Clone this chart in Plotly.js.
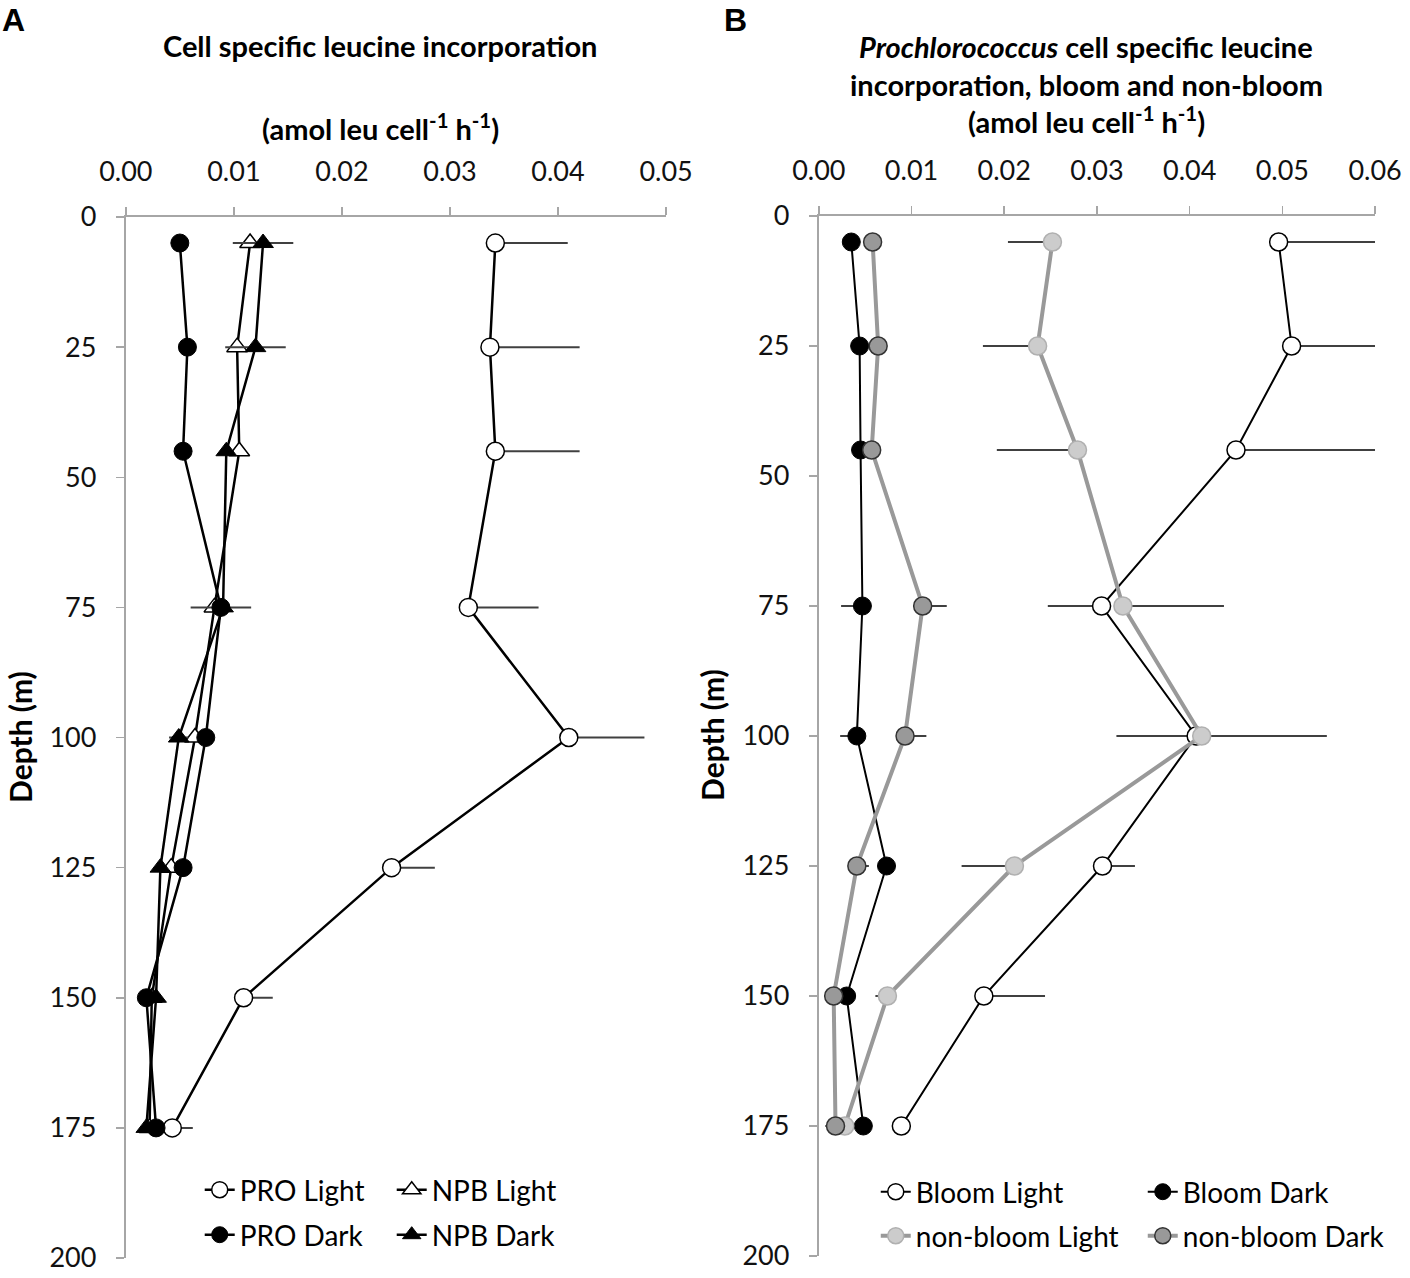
<!DOCTYPE html>
<html>
<head>
<meta charset="utf-8">
<script src="https://cdn.plot.ly/plotly-3.0.1.min.js"></script>
<style>
  html, body { margin: 0; padding: 0; background: #fff; }
  #chart { width: 1410px; height: 1278px; }
</style>
</head>
<body>
<div id="chart"></div>
<script>
// Sampling depths (m), shared by both panels
const depths = [5, 25, 45, 75, 100, 125, 150, 175];

// Panel A: cell specific leucine incorporation (amol leu cell-1 h-1)
const proLight = [0.0342, 0.0337, 0.0342, 0.0317, 0.0410, 0.0246, 0.0109, 0.0043];
const proLightErrPlus = [0.0067, 0.0083, 0.0078, 0.0065, 0.0070, 0.0040, 0.0027, 0.0019];
const proDark = [0.0050, 0.0057, 0.0053, 0.0088, 0.0074, 0.0053, 0.0019, 0.0028];
const proDarkErr = [0, 0, 0, 0.0028, 0, 0, 0, 0];
const npbLight = [0.0115, 0.0103, 0.0105, 0.0082, 0.0064, 0.0042, 0.0024, 0.0022];
const npbDark = [0.0127, 0.0120, 0.0093, 0.0090, 0.0049, 0.0032, 0.0028, 0.0019];
const npbDarkErr = [0.0028, 0.0028, 0.0006, 0, 0.0009, 0, 0, 0];

// Panel B: Prochlorococcus, bloom vs non-bloom
const bloomLight = [0.0496, 0.0510, 0.0450, 0.0305, 0.0407, 0.0306, 0.0178, 0.0089];
const bloomLightPlus = [0.0104, 0.0090, 0.0150, 0, 0, 0.0035, 0.0066, 0];
const bloomLightMinus = [0, 0, 0, 0.0058, 0.0086, 0, 0, 0];
const bloomDark = [0.0035, 0.0044, 0.0045, 0.0047, 0.0041, 0.0073, 0.0030, 0.0048];
const bloomDarkMinus = [0, 0, 0, 0.0023, 0.0018, 0, 0, 0];
const nonBloomLight = [0.0252, 0.0236, 0.0279, 0.0328, 0.0413, 0.0211, 0.0074, 0.0028];
const nonBloomLightPlus = [0, 0, 0, 0.0109, 0.0135, 0, 0, 0];
const nonBloomLightMinus = [0.0048, 0.0059, 0.0087, 0, 0, 0.0057, 0.0013, 0];
const nonBloomDark = [0.0058, 0.0064, 0.0057, 0.0112, 0.0093, 0.0041, 0.0016, 0.0018];
const nonBloomDarkPlus = [0.0010, 0, 0, 0.0026, 0.0023, 0.0013, 0, 0];
const nonBloomDarkMinus = [0, 0, 0, 0, 0, 0, 0, 0.0011];

const FONT = "Lato, 'Open Sans', sans-serif";
const AXIS_GREY = "#a6a6a6";
const ERR_GREY = "#404040";
const MARKER_SIZE = 18;
const TICK_SIZE = 27;
const TITLE_SIZE = 29;

function errBars(plus, minus) {
  return {
    type: "data",
    symmetric: false,
    array: plus,
    arrayminus: minus,
    color: ERR_GREY,
    thickness: 2,
    width: 0,
  };
}

function series(name, xs, opts) {
  return Object.assign(
    {
      x: xs,
      y: depths,
      name: name,
      type: "scatter",
      mode: "lines+markers",
      cliponaxis: true,
    },
    opts
  );
}

const traces = [
  // Panel A
  series("PRO Light", proLight, {
    xaxis: "x", yaxis: "y", legend: "legend",
    line: { color: "#000", width: 2.5 },
    marker: { symbol: "circle", size: MARKER_SIZE, color: "#fff", line: { color: "#000", width: 1.5 } },
    error_x: errBars(proLightErrPlus, depths.map(() => 0)),
  }),
  series("NPB Light", npbLight, {
    xaxis: "x", yaxis: "y", legend: "legend",
    line: { color: "#000", width: 2.5 },
    marker: { symbol: "triangle-up", size: MARKER_SIZE, color: "#fff", line: { color: "#000", width: 1.5 } },
  }),
  series("PRO Dark", proDark, {
    xaxis: "x", yaxis: "y", legend: "legend2",
    line: { color: "#000", width: 2.5 },
    marker: { symbol: "circle", size: MARKER_SIZE, color: "#000", line: { color: "#000", width: 1 } },
    error_x: errBars(proDarkErr, proDarkErr),
  }),
  series("NPB Dark", npbDark, {
    xaxis: "x", yaxis: "y", legend: "legend2",
    line: { color: "#000", width: 2.5 },
    marker: { symbol: "triangle-up", size: MARKER_SIZE, color: "#000", line: { color: "#000", width: 1 } },
    error_x: errBars(npbDarkErr, npbDarkErr),
  }),
  // Panel B
  series("Bloom Light", bloomLight, {
    xaxis: "x2", yaxis: "y2", legend: "legend3",
    line: { color: "#000", width: 2 },
    marker: { symbol: "circle", size: MARKER_SIZE, color: "#fff", line: { color: "#000", width: 1.5 } },
    error_x: errBars(bloomLightPlus, bloomLightMinus),
  }),
  series("Bloom Dark", bloomDark, {
    xaxis: "x2", yaxis: "y2", legend: "legend3",
    line: { color: "#000", width: 2 },
    marker: { symbol: "circle", size: MARKER_SIZE, color: "#000", line: { color: "#000", width: 1 } },
    error_x: errBars(depths.map(() => 0), bloomDarkMinus),
  }),
  series("non-bloom Light", nonBloomLight, {
    xaxis: "x2", yaxis: "y2", legend: "legend4",
    line: { color: "#999999", width: 4 },
    marker: { symbol: "circle", size: MARKER_SIZE, color: "#cccccc", line: { color: "#b0b0b0", width: 1.5 } },
    error_x: errBars(nonBloomLightPlus, nonBloomLightMinus),
  }),
  series("non-bloom Dark", nonBloomDark, {
    xaxis: "x2", yaxis: "y2", legend: "legend4",
    line: { color: "#999999", width: 4 },
    marker: { symbol: "circle", size: MARKER_SIZE, color: "#999999", line: { color: "#333333", width: 1.5 } },
    error_x: errBars(nonBloomDarkPlus, nonBloomDarkMinus),
  }),
];

function xAxis(domain, max, anchor) {
  return {
    domain: domain,
    anchor: anchor,
    side: "top",
    range: [0, max],
    dtick: 0.01,
    tick0: 0,
    tickformat: ".2f",
    ticks: "outside",
    ticklen: 8,
    tickwidth: 1.5,
    tickcolor: AXIS_GREY,
    ticklabelstandoff: 15,
    showline: true,
    linecolor: AXIS_GREY,
    linewidth: 2,
    showgrid: false,
    zeroline: false,
    fixedrange: true,
    tickfont: { family: FONT, size: TICK_SIZE, color: "#111" },
  };
}

function yAxis(domain, anchor) {
  return {
    domain: domain,
    anchor: anchor,
    range: [200, 0],
    dtick: 25,
    tick0: 0,
    ticks: "outside",
    ticklen: 8,
    tickwidth: 1.5,
    tickcolor: AXIS_GREY,
    ticklabelstandoff: 14,
    showline: true,
    linecolor: AXIS_GREY,
    linewidth: 2,
    showgrid: false,
    zeroline: false,
    fixedrange: true,
    tickfont: { family: FONT, size: TICK_SIZE, color: "#111" },
  };
}

function legendRow(x, y, entry) {
  return {
    orientation: "h",
    x: x,
    y: y,
    xanchor: "left",
    yanchor: "middle",
    entrywidth: entry,
    entrywidthmode: "pixels",
    bgcolor: "rgba(0,0,0,0)",
    borderwidth: 0,
    font: { family: FONT, size: 28, color: "#000" },
    itemclick: false,
    itemdoubleclick: false,
  };
}

function note(text, x, y, size, extra) {
  return Object.assign(
    {
      text: text,
      xref: "paper",
      yref: "paper",
      x: x,
      y: y,
      showarrow: false,
      xanchor: "center",
      yanchor: "middle",
      font: { family: FONT, size: size, color: "#000" },
    },
    extra || {}
  );
}

const W = 1410;
const H = 1278;
const px = (v) => v / W;
const py = (v) => 1 - v / H;
const LETTER_FONT = { family: "Liberation Sans, Arial, sans-serif", size: 32, color: "#000" };

const layout = {
  width: W,
  height: H,
  margin: { l: 0, r: 0, t: 0, b: 0 },
  paper_bgcolor: "#fff",
  plot_bgcolor: "#fff",
  font: { family: FONT },
  xaxis: xAxis([px(126), px(667)], 0.05, "y"),
  yaxis: yAxis([py(1258), py(217)], "x"),
  xaxis2: xAxis([px(820), px(1377)], 0.06, "y2"),
  yaxis2: yAxis([py(1256), py(216)], "x2"),
  legend: legendRow(px(200), py(1190), 147),
  legend2: legendRow(px(200), py(1235), 147),
  legend3: legendRow(px(877), py(1192), 222),
  legend4: legendRow(px(877), py(1236), 222),
  annotations: [
    note("<b>A</b>", px(14), py(20), 32, { font: LETTER_FONT }),
    note("<b>B</b>", px(737), py(20), 32, { font: LETTER_FONT }),
    note("<b>Cell specific leucine incorporation</b>", px(381), py(46), TITLE_SIZE),
    note("<b>(amol leu cell<sup>-1</sup> h<sup>-1</sup>)</b>", px(381), py(127), TITLE_SIZE),
    note("<b><i>Prochlorococcus</i> cell specific leucine</b>", px(1088), py(47), TITLE_SIZE),
    note("<b>incorporation, bloom and non-bloom</b>", px(1088), py(84), TITLE_SIZE),
    note("<b>(amol leu cell<sup>-1</sup> h<sup>-1</sup>)</b>", px(1088), py(120), TITLE_SIZE),
    note("<b>Depth (m)</b>", px(20), py(737), 30, { textangle: -90 }),
    note("<b>Depth (m)</b>", px(713), py(735), 30, { textangle: -90 }),
  ],
  showlegend: true,
};

Plotly.newPlot("chart", traces, layout, { staticPlot: true, displayModeBar: false });
</script>
</body>
</html>
